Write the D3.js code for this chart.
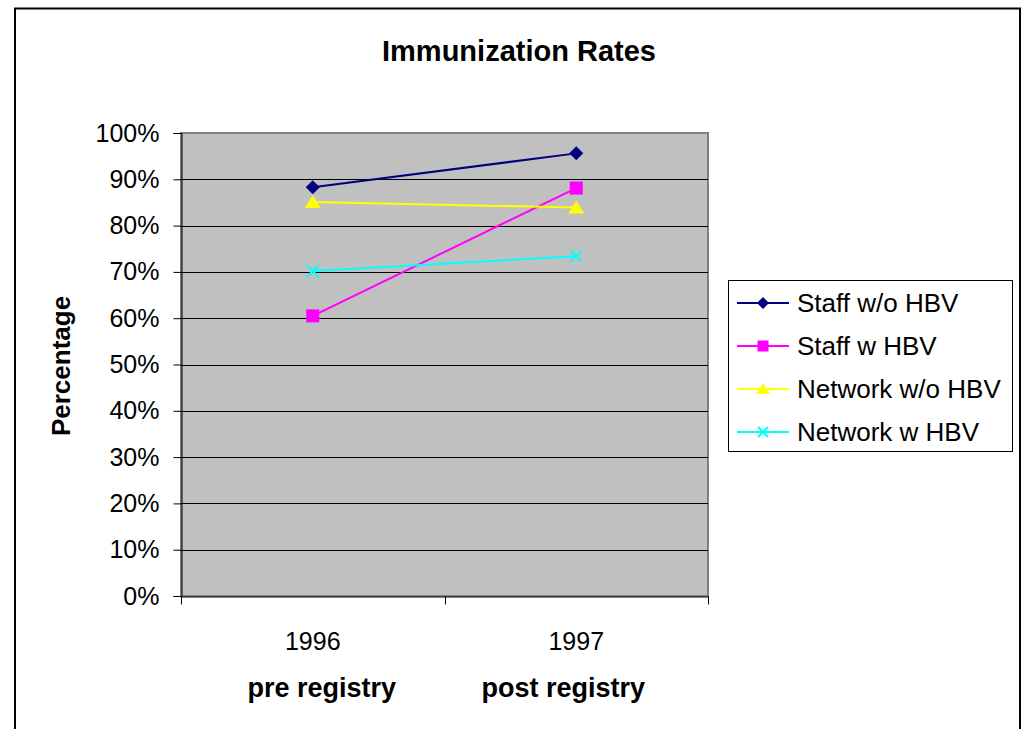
<!DOCTYPE html>
<html lang="en">
<head>
	<meta charset="utf-8">
	<title>Immunization Rates</title>
	<script type="text/javascript" src="https://d3js.org/d3.v7.min.js"></script>
	<style type="text/css">
		body { margin: 0; background: #fff; }
		text { font-family: "Liberation Sans", Arial, sans-serif; }
	</style>
</head>
<body>
	<script type="text/javascript">

        var years = ["1996", "1997"];
        var phases = ["pre registry", "post registry"];
        var yTicks = [0, 10, 20, 30, 40, 50, 60, 70, 80, 90, 100];

        var seriesNames = ["Staff w/o HBV", "Staff w HBV", "Network w/o HBV", "Network w HBV"];
        var staffNoHbv = [88.3, 95.6];
        var staffHbv = [60.5, 88.1];
        var networkNoHbv = [85.1, 83.9];
        var networkHbv = [70.2, 73.4];

        var series = [
            { name: seriesNames[0], values: staffNoHbv, color: "#000080", marker: "diamond" },
            { name: seriesNames[1], values: staffHbv, color: "#FF00FF", marker: "square" },
            { name: seriesNames[2], values: networkNoHbv, color: "#FFFF00", marker: "triangle" },
            { name: seriesNames[3], values: networkHbv, color: "#00FFFF", marker: "cross" }
        ];

        var width = 1024, height = 729;
        var plot = { left: 181, right: 708, top: 133, bottom: 596 };

        var svg = d3.select("body")
            .append("svg")
            .attr("width", width)
            .attr("height", height);

        // outer chart frame (bottom runs off the page)
        svg.append("path")
            .attr("d", "M15,740 L15,8.5 L1020,8.5 L1020,740")
            .attr("fill", "none")
            .attr("stroke", "#000")
            .attr("stroke-width", 2);

        var x = d3.scaleBand()
            .domain(years)
            .range([plot.left, plot.right]);

        var y = d3.scaleLinear()
            .domain([0, 100])
            .range([plot.bottom, plot.top]);

        // plot area
        svg.append("rect")
            .attr("x", plot.left)
            .attr("y", plot.top)
            .attr("width", plot.right - plot.left)
            .attr("height", plot.bottom - plot.top)
            .attr("fill", "#C0C0C0")
            .attr("stroke", "#808080")
            .attr("stroke-width", 2);

        // gridlines
        svg.selectAll(".grid")
            .data(yTicks.filter(function(d) { return d > 0 && d < 100; }))
            .enter()
            .append("line")
            .attr("x1", plot.left)
            .attr("x2", plot.right)
            .attr("y1", function(d) { return Math.round(y(d)) + 0.5; })
            .attr("y2", function(d) { return Math.round(y(d)) + 0.5; })
            .attr("stroke", "#000")
            .attr("stroke-width", 1);

        // y axis
        var yAxis = d3.axisLeft(y)
            .tickValues(yTicks)
            .tickFormat(function(d) { return d + "%"; })
            .tickSize(8)
            .tickPadding(14);

        var gy = svg.append("g")
            .attr("transform", "translate(" + (plot.left + 0.5) + ",0)")
            .call(yAxis);
        gy.select(".domain").attr("stroke", "#000");
        gy.selectAll(".tick line").attr("stroke", "#000");
        gy.selectAll(".tick text")
            .attr("font-size", 25)
            .attr("font-family", "Liberation Sans, Arial, sans-serif")
            .attr("fill", "#000");

        // x axis: ticks on category boundaries
        var xAxis = d3.axisBottom(x)
            .tickSize(0)
            .tickPadding(0)
            .tickFormat("");
        var gx = svg.append("g")
            .attr("transform", "translate(0," + (plot.bottom + 0.5) + ")")
            .call(xAxis);
        gx.select(".domain").attr("stroke", "#000");

        var bounds = [plot.left, x("1997"), plot.right];
        gx.selectAll(".bound")
            .data(bounds)
            .enter()
            .append("line")
            .attr("x1", function(d) { return Math.round(d) + 0.5; })
            .attr("x2", function(d) { return Math.round(d) + 0.5; })
            .attr("y1", 0)
            .attr("y2", 8)
            .attr("stroke", "#000");

        svg.selectAll(".year")
            .data(years)
            .enter()
            .append("text")
            .attr("x", function(d) { return x(d) + x.bandwidth() / 2; })
            .attr("y", 650)
            .attr("text-anchor", "middle")
            .attr("font-size", 25)
            .text(function(d) { return d; });

        // the second-line labels sit a little off the category centres
        var phaseShift = [9, -13];
        svg.selectAll(".phase")
            .data(phases)
            .enter()
            .append("text")
            .attr("x", function(d, i) { return x(years[i]) + x.bandwidth() / 2 + phaseShift[i]; })
            .attr("y", 697)
            .attr("text-anchor", "middle")
            .attr("font-size", 27)
            .attr("font-weight", "bold")
            .text(function(d) { return d; });

        // title and y label
        svg.append("text")
            .attr("x", 519)
            .attr("y", 61)
            .attr("text-anchor", "middle")
            .attr("font-size", 29)
            .attr("font-weight", "bold")
            .text("Immunization Rates");

        svg.append("text")
            .attr("transform", "translate(70,366) rotate(-90)")
            .attr("text-anchor", "middle")
            .attr("font-size", 26)
            .attr("font-weight", "bold")
            .text("Percentage");

        // markers
        function drawMarker(g, type, color, s) {
            if (type === "diamond") {
                g.append("path")
                    .attr("d", "M0," + (-s) + " L" + s + ",0 L0," + s + " L" + (-s) + ",0 Z")
                    .attr("fill", color);
            } else if (type === "square") {
                g.append("rect")
                    .attr("x", -s + 0.5).attr("y", -s + 0.5)
                    .attr("width", 2 * s - 1).attr("height", 2 * s - 1)
                    .attr("fill", color);
            } else if (type === "triangle") {
                g.append("path")
                    .attr("d", "M0," + (-s) + " L" + (s + 1) + "," + (s - 1) + " L" + (-s - 1) + "," + (s - 1) + " Z")
                    .attr("fill", color);
            } else {
                var c = s - 1;
                g.append("path")
                    .attr("d", "M" + (-c) + "," + (-c) + " L" + c + "," + c + " M" + c + "," + (-c) + " L" + (-c) + "," + c)
                    .attr("stroke", color)
                    .attr("stroke-width", 2)
                    .attr("fill", "none");
            }
        }

        var line = d3.line()
            .x(function(d, i) { return x(years[i]) + x.bandwidth() / 2; })
            .y(function(d) { return y(d); });

        series.forEach(function(s) {
            svg.append("path")
                .datum(s.values)
                .attr("d", line)
                .attr("fill", "none")
                .attr("stroke", s.color)
                .attr("stroke-width", 2);
        });

        series.forEach(function(s) {
            s.values.forEach(function(v, i) {
                var g = svg.append("g")
                    .attr("transform", "translate(" + (x(years[i]) + x.bandwidth() / 2) + "," + y(v) + ")");
                drawMarker(g, s.marker, s.color, 7);
            });
        });

        // legend
        var legend = svg.append("g");
        legend.append("rect")
            .attr("x", 728.5)
            .attr("y", 280.5)
            .attr("width", 284)
            .attr("height", 171)
            .attr("fill", "#fff")
            .attr("stroke", "#000")
            .attr("stroke-width", 1);

        var legendY = d3.scalePoint()
            .domain(seriesNames)
            .range([303, 432]);

        series.forEach(function(s) {
            var ly = legendY(s.name);
            legend.append("line")
                .attr("x1", 737).attr("x2", 789)
                .attr("y1", ly).attr("y2", ly)
                .attr("stroke", s.color)
                .attr("stroke-width", 2);
            var g = legend.append("g")
                .attr("transform", "translate(763," + ly + ")");
            drawMarker(g, s.marker, s.color, 6);
            legend.append("text")
                .attr("x", 797)
                .attr("y", ly + 9)
                .attr("font-size", 26)
                .text(s.name);
        });

	</script>
</body>
</html>
